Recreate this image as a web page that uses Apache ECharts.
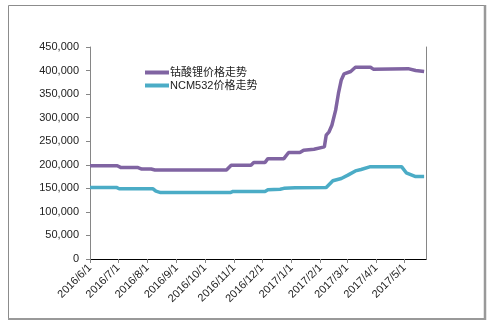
<!DOCTYPE html>
<html>
<head>
<meta charset="utf-8">
<script src="https://cdn.jsdelivr.net/npm/echarts@6/dist/echarts.min.js"></script>
<style>
  html, body { margin: 0; padding: 0; background: #fff; }
  #chart { width: 492px; height: 323px; }
</style>
</head>
<body>
<div id="chart"></div>
<script>
// Price series (yuan/ton), as [date, value] points
const licoDates = ['2016-06-01','2016-06-30','2016-07-04','2016-07-22','2016-07-26','2016-08-05','2016-08-09','2016-10-24','2016-10-29','2016-11-19','2016-11-22','2016-12-04','2016-12-07','2016-12-24','2016-12-29','2017-01-10','2017-01-14','2017-01-25','2017-02-05','2017-02-07','2017-02-10','2017-02-13','2017-02-17','2017-02-20','2017-02-23','2017-02-26','2017-03-05','2017-03-10','2017-03-26','2017-03-29','2017-05-05','2017-05-13','2017-05-22'];
const licoValues = [198000,198000,194000,194000,191000,191000,189000,189000,199000,199000,205000,205000,213000,213000,226000,226000,231000,233000,238000,263000,270000,284000,316000,352000,380000,393000,398000,407000,407000,403000,404000,400000,398000];

const ncmDates = ['2016-06-01','2016-06-29','2016-07-02','2016-08-07','2016-08-10','2016-08-15','2016-10-28','2016-10-31','2016-12-04','2016-12-07','2016-12-20','2016-12-24','2017-01-05','2017-02-07','2017-02-14','2017-02-23','2017-03-02','2017-03-10','2017-03-16','2017-03-26','2017-04-28','2017-05-03','2017-05-13','2017-05-22'];
const ncmValues = [152000,152000,149000,149000,144000,141000,141000,143500,143500,147000,148000,150000,151000,152000,166000,171000,178000,187000,190000,196000,196000,183000,175000,175000];

// Month-start tick labels on the date axis
const monthTicks = ['2016/6/1','2016/7/1','2016/8/1','2016/9/1','2016/10/1','2016/11/1','2016/12/1','2017/1/1','2017/2/1','2017/3/1','2017/4/1','2017/5/1'];

const seriesNames = ['钴酸锂价格走势', 'NCM532价格走势'];

// dates are placed on a numeric axis as day numbers (UTC-based, no DST drift)
function toDay(s) {
  const p = s.split(/[-\/]/).map(Number);
  return Date.UTC(p[0], p[1] - 1, p[2]) / 86400000;
}
function dayLabel(v) {
  const d = new Date(Math.round(v) * 86400000);
  return d.getUTCFullYear() + '/' + (d.getUTCMonth() + 1) + '/' + d.getUTCDate();
}
const tickDays = monthTicks.map(toDay);
const xMin = toDay('2016-06-01');
const xMax = toDay('2017-05-24');

function pairs(dates, values) {
  return dates.map((d, i) => [toDay(d), values[i]]);
}

const FONT = '"Liberation Sans", "Noto Sans CJK SC", sans-serif';
const axisGray = '#868686';

const chart = echarts.init(document.getElementById('chart'), null, { renderer: 'canvas' });
chart.setOption({
  animation: false,
  backgroundColor: '#fff',
  grid: { left: 90, right: 66, top: 47, bottom: 64 },
  legend: {
    data: seriesNames,
    orient: 'vertical',
    left: 140,
    top: 62,
    itemWidth: 24,
    itemHeight: 4,
    itemGap: 2,
    icon: 'rect',
    textStyle: { fontFamily: FONT, fontSize: 11, color: '#222', padding: [0, 0, 0, -4] }
  },
  xAxis: [{
    type: 'value',
    min: xMin,
    max: xMax,
    axisLine: { show: true, lineStyle: { color: axisGray, width: 1 } },
    axisTick: { show: true, customValues: tickDays, length: 4, lineStyle: { color: axisGray } },
    axisLabel: {
      customValues: tickDays,
      rotate: 45,
      margin: 7,
      fontFamily: FONT,
      fontSize: 11,
      color: '#222',
      formatter: dayLabel
    },
    splitLine: { show: false }
  }, {
    type: 'value',
    position: 'top',
    min: xMin,
    max: xMax,
    axisLine: { show: true, lineStyle: { color: '#000', width: 1 } },
    axisTick: { show: false },
    axisLabel: { show: false },
    splitLine: { show: false }
  }],
  yAxis: [{
    type: 'value',
    min: 0,
    max: 450000,
    interval: 50000,
    axisLine: { show: true, lineStyle: { color: axisGray } },
    axisTick: { show: true, length: 4, lineStyle: { color: axisGray } },
    axisLabel: {
      margin: 11,
      fontFamily: FONT,
      fontSize: 11,
      color: '#222',
      formatter: v => v.toLocaleString('en-US')
    },
    splitLine: { show: false }
  }, {
    type: 'value',
    position: 'right',
    min: 0,
    max: 450000,
    interval: 50000,
    axisLine: { show: true, lineStyle: { color: axisGray } },
    axisTick: { show: false },
    axisLabel: { show: false },
    splitLine: { show: false }
  }],
  series: [{
    name: seriesNames[0],
    type: 'line',
    data: pairs(licoDates, licoValues),
    showSymbol: false,
    symbol: 'none',
    color: '#8064A2',
    lineStyle: { width: 3.5, color: '#8064A2' }
  }, {
    name: seriesNames[1],
    type: 'line',
    data: pairs(ncmDates, ncmValues),
    showSymbol: false,
    symbol: 'none',
    color: '#4BACC6',
    lineStyle: { width: 3.5, color: '#4BACC6' }
  }],
  graphic: [
    // outer chart frame
    { type: 'line', shape: { x1: 8.5, y1: 5.5, x2: 485, y2: 5.5 }, style: { stroke: '#8c8c8c', lineWidth: 1 }, silent: true },
    { type: 'line', shape: { x1: 8.5, y1: 5.5, x2: 8.5, y2: 319 }, style: { stroke: '#8c8c8c', lineWidth: 1 }, silent: true },
    { type: 'line', shape: { x1: 485, y1: 5, x2: 485, y2: 320 }, style: { stroke: '#999', lineWidth: 2.5 }, silent: true },
    { type: 'line', shape: { x1: 8, y1: 319, x2: 486, y2: 319 }, style: { stroke: '#999', lineWidth: 2 }, silent: true }
  ]
});
</script>
</body>
</html>
